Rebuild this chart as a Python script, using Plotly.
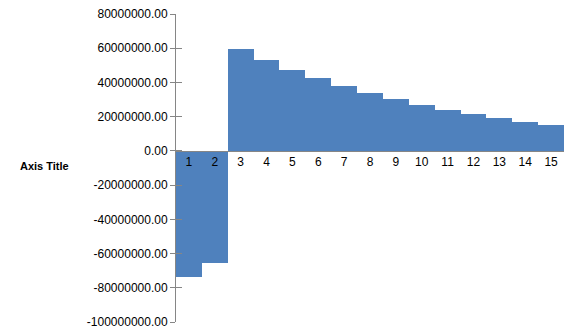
import plotly.graph_objects as go

categories = [str(i) for i in range(1, 16)]
values = [-73.8e6, -65.7e6, 59.4e6, 53.0e6, 47.2e6, 42.5e6, 37.9e6, 33.8e6,
          30.3e6, 26.8e6, 23.9e6, 21.6e6, 19.2e6, 16.9e6, 15.2e6]
y_ticks = [-100e6, -80e6, -60e6, -40e6, -20e6, 0, 20e6, 40e6, 60e6, 80e6]
y_labels = ["%.2f" % v for v in y_ticks]
axis_title = "Axis Title"

ymin, ymax = -100e6, 80e6
zero_pos = (0 - ymin) / (ymax - ymin)
FONT = "Liberation Sans"

fig = go.Figure()
fig.add_trace(go.Bar(x=categories, y=values, marker=dict(color="#4f81bd", line=dict(width=0)), width=1.0))
# invisible trace on overlay axis to draw the inner half of cross tick marks
fig.add_trace(go.Scatter(x=[categories[0]], y=[0], yaxis="y2", mode="markers",
                         marker=dict(opacity=0), hoverinfo="skip"))

fig.update_layout(
    width=576, height=336,
    margin=dict(l=176, r=12, t=14, b=14),
    paper_bgcolor="white", plot_bgcolor="white",
    showlegend=False, bargap=0,
    font=dict(family=FONT, size=12, color="#000000"),
    xaxis=dict(type="category", anchor="free", position=zero_pos, automargin=False,
               range=[-0.5, len(categories) - 0.5],
               showline=True, linecolor="#868686", linewidth=1,
               ticks="", showgrid=False, zeroline=False,
               tickfont=dict(family=FONT, size=12, color="#000000")),
    yaxis=dict(range=[ymin, ymax], tickvals=y_ticks, ticktext=y_labels, automargin=False,
               showline=True, linecolor="#868686", linewidth=1,
               ticks="outside", ticklen=5, tickcolor="#868686",
               showgrid=False, zeroline=False,
               tickfont=dict(family=FONT, size=12, color="#000000")),
    yaxis2=dict(range=[ymin, ymax], tickvals=y_ticks, overlaying="y", side="left",
                anchor="x", automargin=False, showticklabels=False,
                ticks="inside", ticklen=6, tickcolor="#868686", tickwidth=1,
                showline=False, showgrid=False, zeroline=False),
    annotations=[dict(text="<b>" + axis_title + "</b>", xref="paper", yref="paper",
                      x=-0.34, y=zero_pos - 0.05, xanchor="center", yanchor="middle",
                      showarrow=False, font=dict(family=FONT, size=11, color="#000000"))],
)

fig.write_html("out.html")
